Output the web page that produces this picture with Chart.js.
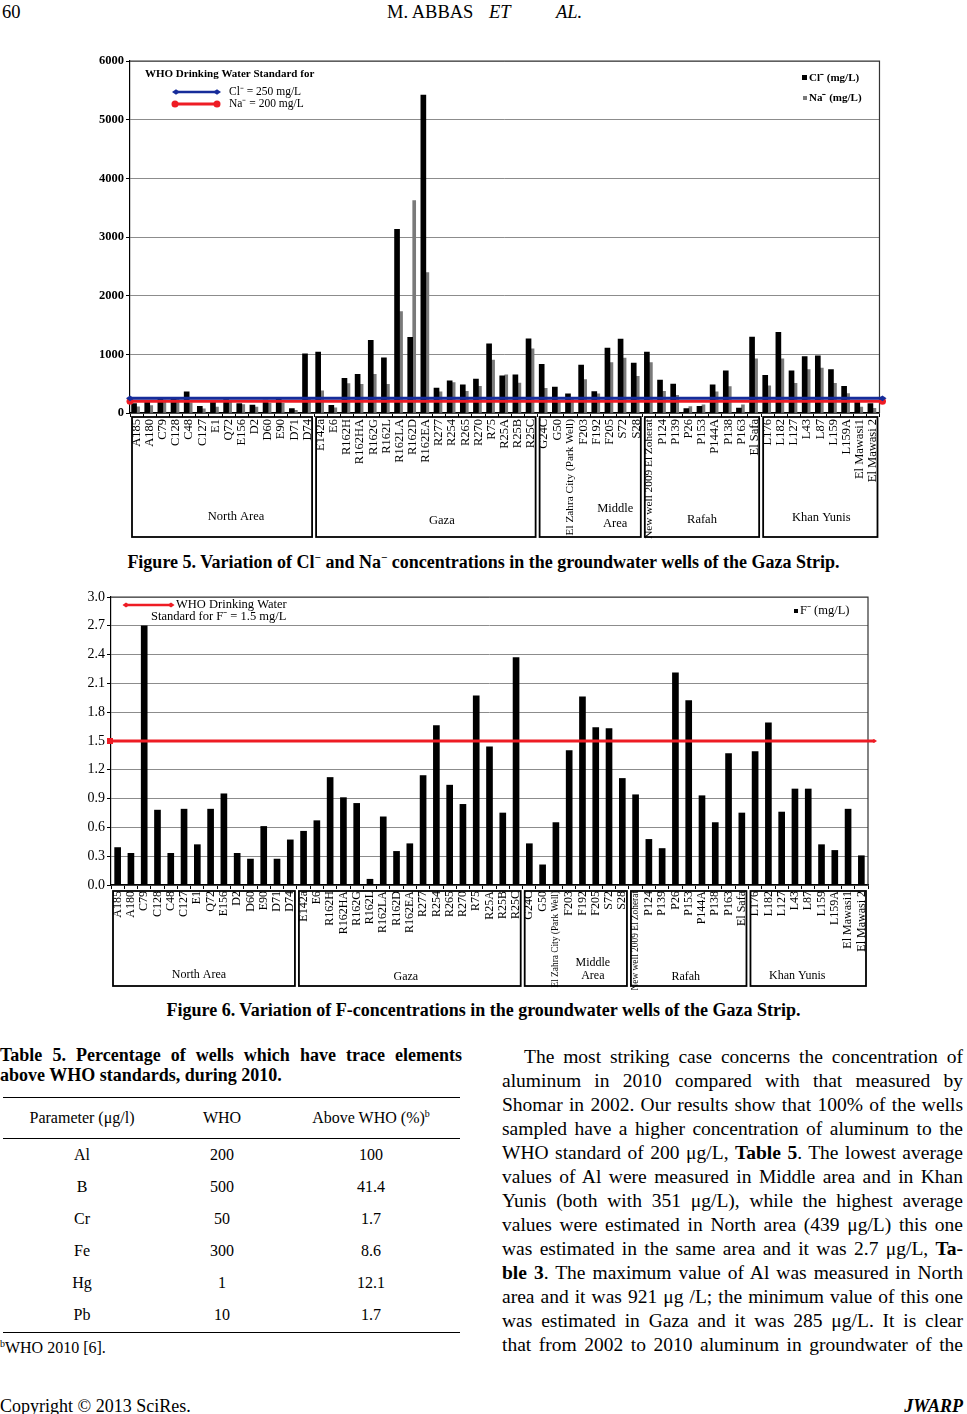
<!DOCTYPE html>
<html>
<head>
<meta charset="utf-8">
<script src="https://cdn.jsdelivr.net/npm/chart.js@4.4.1/dist/chart.umd.min.js"></script>
<style>
  body { margin: 0; width: 967px; height: 1414px; position: relative; background: #fff; color: #000;
         font-family: "Liberation Serif", "Times New Roman", serif; overflow: hidden; }
  .abs { position: absolute; white-space: nowrap; }
  canvas { position: absolute; }
  .cap { left: 0; width: 967px; text-align: center; font-weight: bold; font-size: 18px; line-height: 20px; }
  .body-line { left: 502px; width: 461px; font-size: 19.5px; line-height: 24px; text-align: justify; text-align-last: justify; }
  .rule { position: absolute; left: 3px; width: 457px; height: 0; border-top: 1.5px solid #000; }
  .cell { position: absolute; font-size: 16px; line-height: 20px; text-align: center; width: 160px; }
  .head { top: 2px; font-size: 18.5px; line-height: 20px; }
  sup { font-size: 62%; line-height: 0; }
</style>
</head>
<body>

<div class="abs head" style="left:2px;">60</div>
<div class="abs head" style="left:387px;">M. ABBAS</div>
<div class="abs head" style="left:489px;font-style:italic;">ET</div>
<div class="abs head" style="left:556px;font-style:italic;">AL.</div>

<canvas id="chloride" width="810" height="495" style="left:80px;top:50px;"></canvas>
<div class="abs cap" style="top:552px;">Figure 5. Variation of Cl<sup>−</sup> and Na<sup>−</sup> concentrations in the groundwater wells of the Gaza Strip.</div>

<canvas id="fluoride" width="820" height="405" style="left:60px;top:585px;"></canvas>
<div class="abs cap" style="top:1000px;">Figure 6. Variation of F-concentrations in the groundwater wells of the Gaza Strip.</div>

<!-- Table 5 -->
<div class="abs" style="left:0;top:1045px;width:462px;font-weight:bold;font-size:18px;line-height:20px;text-align:justify;text-align-last:justify;">Table 5. Percentage of wells which have trace elements</div>
<div class="abs" style="left:0;top:1065px;font-weight:bold;font-size:18px;line-height:20px;">above WHO standards, during 2010.</div>
<div class="rule" style="top:1097px;"></div>
<div class="rule" style="top:1138px;"></div>
<div class="rule" style="top:1332px;"></div>
<div id="tbl"></div>
<div class="abs" style="left:0;top:1338px;font-size:16px;line-height:20px;"><sup>b</sup>WHO 2010 [6].</div>

<div class="abs body-line" style="top:1045px;padding-left:22px;width:439px;">The most striking case concerns the concentration of</div>
<div class="abs body-line" style="top:1069px;">aluminum in 2010 compared with that measured by</div>
<div class="abs body-line" style="top:1093px;">Shomar in 2002. Our results show that 100% of the wells</div>
<div class="abs body-line" style="top:1117px;">sampled have a higher concentration of aluminum to the</div>
<div class="abs body-line" style="top:1141px;">WHO standard of 200 μg/L, <b>Table 5</b>. The lowest average</div>
<div class="abs body-line" style="top:1165px;">values of Al were measured in Middle area and in Khan</div>
<div class="abs body-line" style="top:1189px;">Yunis (both with 351 μg/L), while the highest average</div>
<div class="abs body-line" style="top:1213px;">values were estimated in North area (439 μg/L) this one</div>
<div class="abs body-line" style="top:1237px;">was estimated in the same area and it was 2.7 μg/L, <b>Ta-</b></div>
<div class="abs body-line" style="top:1261px;"><b>ble 3</b>. The maximum value of Al was measured in North</div>
<div class="abs body-line" style="top:1285px;">area and it was 921 μg /L; the minimum value of this one</div>
<div class="abs body-line" style="top:1309px;">was estimated in Gaza and it was 285 μg/L. It is clear</div>
<div class="abs body-line" style="top:1333px;">that from 2002 to 2010 aluminum in groundwater of the</div>

<div class="abs" style="left:0;top:1396px;font-size:18px;line-height:20px;">Copyright © 2013 SciRes.</div>
<div class="abs" style="right:4px;top:1396px;font-size:18px;line-height:20px;font-weight:bold;font-style:italic;">JWARP</div>

<script>
const SERIF = '"Liberation Serif", "Times New Roman", serif';

// wells, grouped by area (same order in both figures)
const wells = ['A185', 'A180', 'C79', 'C128', 'C48', 'C127', 'E1', 'Q72', 'E156', 'D2', 'D60', 'E90', 'D71', 'D74',
  'E142a', 'E6', 'R162H', 'R162HA', 'R162G', 'R162L', 'R162LA', 'R162D', 'R162EA', 'R277', 'R254', 'R265', 'R270', 'R75', 'R25A', 'R25B', 'R25C',
  'G24C', 'G50', 'El Zahra City (Park Well)', 'F203', 'F192', 'F205', 'S72', 'S28',
  'New well 2009 El Zoherat', 'P124', 'P139', 'P26', 'P153', 'P144A', 'P138', 'P163', 'El Safa',
  'L176', 'L182', 'L127', 'L43', 'L87', 'L159', 'L159A', 'El Mawasi1', 'El Mawasi 2'];
const areaNames = ['North Area', 'Gaza', 'Middle Area', 'Rafah', 'Khan Yunis'];
const areaSizes = [14, 17, 8, 9, 9];

// Figure 5 (mg/L)
const chloride = [160, 200, 250, 260, 360, 115, 200, 230, 160, 135, 220, 250, 75, 1010,
  1040, 130, 590, 660, 1240, 940, 3130, 1290, 5420, 425, 550, 480, 580, 1180, 635, 650, 1265,
  830, 440, 325, 815, 365, 1105, 1260, 850,
  1040, 560, 495, 75, 115, 480, 720, 85, 1294,
  640, 1373, 720, 960, 976, 738, 454, 200, 160];
const sodium = [105, 125, 220, 240, 175, 70, 100, 210, 145, 100, 165, 165, 45, 260,
  380, 90, 500, 490, 660, 490, 1730, 3620, 2395, 360, 520, 370, 455, 900, 650, 510, 1095,
  420, 200, 250, 570, 325, 860, 935, 625,
  860, 370, 300, 110, 140, 360, 450, 140, 925,
  465, 925, 505, 740, 766, 505, 330, 100, 80];
const whoChloride = 250;
const whoSodium = 200;

// Figure 6 (mg/L)
const fluoride = [0.39, 0.33, 2.70, 0.78, 0.33, 0.79, 0.42, 0.79, 0.95, 0.33, 0.27, 0.61, 0.27, 0.47,
  0.56, 0.67, 1.12, 0.91, 0.85, 0.06, 0.71, 0.35, 0.43, 1.14, 1.66, 1.04, 0.84, 1.97, 1.44, 0.75, 2.37,
  0.43, 0.21, 0.65, 1.40, 1.96, 1.64, 1.63, 1.11,
  0.94, 0.475, 0.38, 2.21, 1.92, 0.93, 0.65, 1.37, 0.75,
  1.39, 1.69, 0.76, 1.00, 1.00, 0.42, 0.36, 0.79, 0.305];
const whoFluoride = 1.5;

// Table 5
const tableParams = ['Al', 'B', 'Cr', 'Fe', 'Hg', 'Pb'];
const tableWho = ['200', '500', '50', '300', '1', '10'];
const tableAbove = ['100', '41.4', '1.7', '8.6', '12.1', '1.7'];

function buildTable() {
  const host = document.getElementById('tbl');
  const cols = [82, 222, 371];
  const add = (html, cx, cy) => {
    const d = document.createElement('div');
    d.className = 'cell';
    d.style.left = (cx - 80) + 'px';
    d.style.top = (cy - 10) + 'px';
    d.innerHTML = html;
    host.appendChild(d);
  };
  add('Parameter (μg/l)', cols[0], 1118);
  add('WHO', cols[1], 1118);
  add('Above WHO (%)<sup>b</sup>', cols[2], 1118);
  tableParams.forEach((p, i) => {
    const cy = 1155 + i * 32;
    add(p, cols[0], cy);
    add(tableWho[i], cols[1], cy);
    add(tableAbove[i], cols[2], cy);
  });
}
buildTable();

// boxes with the area names under the well labels
function drawAreas(chart, o) {
  const x = chart.scales.x, a = chart.chartArea, ctx = chart.ctx;
  const half = (x.getPixelForValue(1) - x.getPixelForValue(0)) / 2;
  let start = 0;
  ctx.save();
  ctx.strokeStyle = '#000';
  ctx.lineWidth = 1.8;
  ctx.fillStyle = '#000';
  ctx.font = o.font;
  ctx.textAlign = 'center';
  ctx.textBaseline = 'middle';
  areaNames.forEach((name, i) => {
    const end = start + areaSizes[i] - 1;
    const l = x.getPixelForValue(start) - half + 2;
    const r = x.getPixelForValue(end) + half - 2;
    ctx.strokeRect(l, a.bottom + o.top, r - l, o.bottom - o.top);
    const lines = name === 'Middle Area' ? ['Middle', 'Area'] : [name];
    const cx = (l + r) / 2 + o.shift[i];
    lines.forEach((t, k) => {
      ctx.fillText(t, cx, a.bottom + o.textY[i] + (k - (lines.length - 1) / 2) * o.lh);
    });
    start = end + 1;
  });
  ctx.restore();
}

function marker(ctx, kind, x, y, s) {
  ctx.beginPath();
  if (kind === 'circle') {
    ctx.arc(x, y, s, 0, Math.PI * 2);
  } else if (kind === 'square') {
    ctx.rect(x - s, y - s, 2 * s, 2 * s);
  } else {
    ctx.moveTo(x - s, y); ctx.lineTo(x, y - s * 0.7); ctx.lineTo(x + s, y); ctx.lineTo(x, y + s * 0.7);
    ctx.closePath();
  }
  ctx.fill();
}

function hLine(ctx, x0, x1, y, color, width, m0, m1, s) {
  ctx.save();
  ctx.strokeStyle = color;
  ctx.fillStyle = color;
  ctx.lineWidth = width;
  ctx.beginPath();
  ctx.moveTo(x0, y);
  ctx.lineTo(x1, y);
  ctx.stroke();
  if (m0) marker(ctx, m0, x0, y, s);
  if (m1) marker(ctx, m1, x1, y, s);
  ctx.restore();
}

function frame(chart) {
  const a = chart.chartArea, ctx = chart.ctx;
  ctx.save();
  ctx.strokeStyle = '#333';
  ctx.lineWidth = 1.2;
  ctx.beginPath();
  ctx.moveTo(a.left, a.top);
  ctx.lineTo(a.right, a.top);
  ctx.lineTo(a.right, a.bottom);
  ctx.stroke();
  ctx.restore();
}

const chlorideDecor = {
  id: 'chlorideDecor',
  afterDatasetsDraw(chart) {
    const a = chart.chartArea, y = chart.scales.y, ctx = chart.ctx;
    frame(chart);
    hLine(ctx, a.left, a.right + 3, y.getPixelForValue(whoSodium), '#ee1c24', 3, 'circle', 'circle', 3.5);
    hLine(ctx, a.left, a.right + 3, y.getPixelForValue(whoChloride), '#162c9a', 3, 'diamond', 'diamond', 4);

    // left legend
    ctx.save();
    ctx.fillStyle = '#000';
    ctx.textBaseline = 'middle';
    ctx.font = 'bold 11px ' + SERIF;
    ctx.fillText('WHO Drinking Water Standard for', a.left + 15, a.top + 13);
    ctx.font = '11.5px ' + SERIF;
    ctx.fillText('Cl⁻ = 250 mg/L', a.left + 99, a.top + 31);
    ctx.fillText('Na⁻ = 200 mg/L', a.left + 99, a.top + 43);
    ctx.restore();
    hLine(ctx, a.left + 46, a.left + 87, a.top + 31, '#162c9a', 2.5, 'diamond', 'diamond', 4);
    hLine(ctx, a.left + 45, a.left + 87, a.top + 43, '#ee1c24', 3, 'circle', 'circle', 3.5);

    // series legend
    ctx.save();
    ctx.textBaseline = 'middle';
    ctx.font = 'bold 11px ' + SERIF;
    ctx.fillStyle = '#000';
    ctx.fillRect(a.left + 672, a.top + 14, 5, 5);
    ctx.fillText('Cl⁻ (mg/L)', a.left + 679, a.top + 17);
    ctx.fillStyle = '#7a7a7a';
    ctx.fillRect(a.left + 673, a.top + 35, 4, 4);
    ctx.fillStyle = '#000';
    ctx.fillText('Na⁻ (mg/L)', a.left + 679, a.top + 37);
    ctx.restore();
  },
  afterDraw(chart) {
    drawAreas(chart, {
      top: 4, bottom: 124, font: '12.5px ' + SERIF, lh: 15,
      shift: [14, 16, 25, 0, 1], textY: [104, 108, 103.5, 107, 105]
    });
  }
};

const fluorideDecor = {
  id: 'fluorideDecor',
  afterDatasetsDraw(chart) {
    const a = chart.chartArea, y = chart.scales.y, ctx = chart.ctx;
    frame(chart);
    hLine(ctx, a.left - 1, a.right + 6, y.getPixelForValue(whoFluoride), '#ee1c24', 2.8, 'square', 'diamond', 3);

    hLine(ctx, a.left + 15, a.left + 60, a.top + 8, '#ee1c24', 2.5, 'diamond', 'diamond', 3.5);
    ctx.save();
    ctx.fillStyle = '#000';
    ctx.textBaseline = 'middle';
    ctx.font = '12.5px ' + SERIF;
    ctx.fillText('WHO Drinking Water', a.left + 65, a.top + 8);
    ctx.fillText('Standard for F⁻ = 1.5 mg/L', a.left + 40, a.top + 20);
    ctx.fillRect(a.left + 683, a.top + 12, 4, 4);
    ctx.fillText('F⁻ (mg/L)', a.left + 689, a.top + 14);
    ctx.restore();
  },
  afterDraw(chart) {
    drawAreas(chart, {
      top: 6, bottom: 101, font: '12px ' + SERIF, lh: 13,
      shift: [-5, -4, 17, -3, -11], textY: [90, 92, 84.5, 92, 91]
    });
  }
};

const baseOptions = (xHeight, yWidth, pad) => ({
  responsive: false,
  animation: false,
  events: [],
  layout: { padding: pad },
  plugins: { legend: { display: false }, tooltip: { enabled: false } },
  scales: {
    x: {
      offset: true,
      grid: { drawOnChartArea: false, tickLength: 4, color: '#000', offset: true },
      border: { color: '#000', width: 1.5 },
      ticks: { autoSkip: false, minRotation: 90, maxRotation: 90, padding: 2, color: '#000' },
      afterFit: s => { s.height = xHeight; }
    },
    y: {
      grid: { color: '#8c8c8c', lineWidth: 1, tickLength: 4, tickColor: '#000' },
      border: { color: '#000', width: 1.2 },
      ticks: { padding: 2, color: '#000' },
      afterFit: s => { s.width = yWidth; }
    }
  }
});

const opt1 = baseOptions(132, 50, { top: 11, right: 10, left: 0, bottom: 0 });
opt1.scales.x.ticks.font = ctx => ({ family: SERIF, size: wells[ctx.index].length > 15 ? 11.3 : 12.5 });
Object.assign(opt1.scales.y, { min: 0, max: 6000 });
Object.assign(opt1.scales.y.ticks, {
  stepSize: 1000, font: { family: SERIF, size: 12.5, weight: 'bold' },
  callback: v => String(v)
});

new Chart(document.getElementById('chloride'), {
  type: 'bar',
  data: {
    labels: wells,
    datasets: [
      { label: 'Cl⁻ (mg/L)', data: chloride, backgroundColor: '#000', barThickness: 5 },
      { label: 'Na⁻ (mg/L)', data: sodium, backgroundColor: '#7a7a7a', barThickness: 3 }
    ]
  },
  options: opt1,
  plugins: [chlorideDecor]
});

const opt2 = baseOptions(105, 51, { top: 12, right: 12, left: 0, bottom: 0 });
opt2.scales.x.ticks.font = ctx => ({ family: SERIF, size: wells[ctx.index].length > 15 ? 9.4 : 12 });
Object.assign(opt2.scales.y, { min: 0, max: 3 });
Object.assign(opt2.scales.y.ticks, {
  stepSize: 0.3, font: { family: SERIF, size: 14 },
  callback: v => Number(v).toFixed(1)
});

new Chart(document.getElementById('fluoride'), {
  type: 'bar',
  data: {
    labels: wells,
    datasets: [
      { label: 'F⁻ (mg/L)', data: fluoride, backgroundColor: '#000', barThickness: 6 }
    ]
  },
  options: opt2,
  plugins: [fluorideDecor]
});
</script>
</body>
</html>
